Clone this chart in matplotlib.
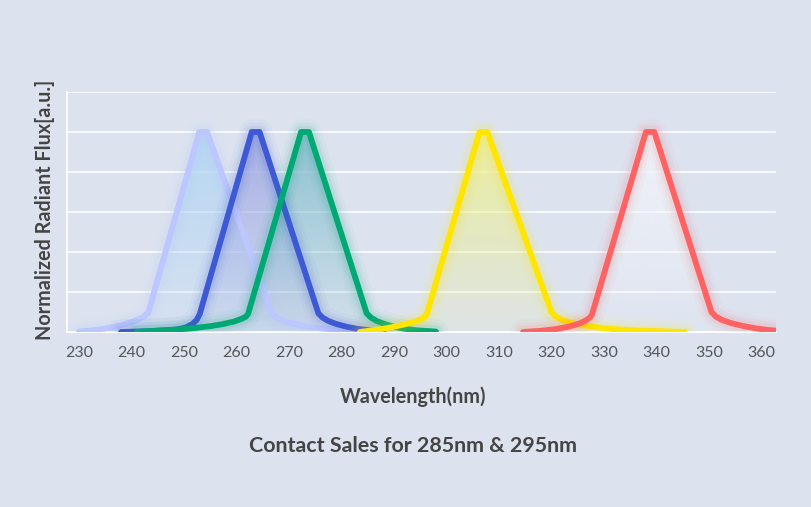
import numpy as np
import matplotlib
matplotlib.use('Agg')
import matplotlib.pyplot as plt
from matplotlib.patches import Polygon
from matplotlib.colors import to_rgb

# wavelength (nm) / normalized flux points
x_ticks = [230, 240, 250, 260, 270, 280, 290, 300, 310, 320, 330, 340, 350, 360]

violet_x = [230, 232, 234, 236, 238, 240, 241.5, 242.5, 243.2, 252.9, 254.4,
            266.7, 267.5, 268.5, 270, 272, 274, 276.5, 279, 282, 285]
violet_y = [0.002, 0.007, 0.013, 0.022, 0.034, 0.05, 0.065, 0.08, 0.097, 1.0, 1.0,
            0.093, 0.074, 0.06, 0.046, 0.034, 0.025, 0.017, 0.011, 0.006, 0.002]

blue_x = [238, 242, 246, 248.5, 250.3, 251.6, 252.4, 253.0, 262.9, 264.4,
          275.6, 276.4, 277.5, 279, 281, 283, 285.5, 288]
blue_y = [0.0, 0.003, 0.007, 0.012, 0.022, 0.04, 0.06, 0.09, 1.0, 1.0,
          0.093, 0.072, 0.055, 0.04, 0.026, 0.016, 0.008, 0.003]

green_x = [241, 245, 249, 252, 255, 257.5, 259.5, 261, 261.8, 262.2, 272.3, 273.8,
           284.8, 285.6, 286.7, 288.2, 290, 292, 294.5, 298]
green_y = [0.0, 0.007, 0.013, 0.02, 0.029, 0.04, 0.052, 0.066, 0.077, 0.09, 1.0, 1.0,
           0.093, 0.072, 0.055, 0.04, 0.026, 0.016, 0.008, 0.002]

yellow_x = [283.5, 285.5, 288, 290, 292, 294, 295.3, 296.0, 296.3, 306.3, 307.8,
            320.0, 320.8, 322, 324, 326.5, 329, 332, 336, 340, 345.4]
yellow_y = [0.0, 0.007, 0.016, 0.026, 0.038, 0.052, 0.066, 0.08, 0.093, 1.0, 1.0,
            0.10, 0.078, 0.06, 0.044, 0.032, 0.022, 0.014, 0.008, 0.004, 0.0]

red_x = [314.6, 318, 321, 323.5, 325.3, 326.6, 327.3, 327.7, 338.0, 339.6,
         350.5, 351.3, 352.5, 354.3, 356.5, 359, 361, 362.7]
red_y = [0.0, 0.006, 0.015, 0.028, 0.042, 0.058, 0.072, 0.085, 1.0, 1.0,
         0.10, 0.078, 0.06, 0.044, 0.03, 0.018, 0.011, 0.007]

series = [
    (violet_x, violet_y, '#bcc6ff', '#aed4f4'),
    (blue_x, blue_y, '#3e59d4', '#9aa5e2'),
    (green_x, green_y, '#00a874', '#7fbccb'),
    (yellow_x, yellow_y, '#ffe500', '#eef08c'),
    (red_x, red_y, '#ff6262', '#f4f5fb'),
]

bg = '#dce3ef'
fig = plt.figure(figsize=(8.12, 5.07), dpi=100, facecolor=bg)
ax = fig.add_axes([0.0825, 0.3452, 0.8732, 0.4734])
ax.set_facecolor(bg)

for xs, ys, line_c, fill_c in series:
    # gradient fill clipped to the area under the curve
    verts = list(zip(xs, ys)) + [(xs[-1], 0), (xs[0], 0)]
    poly = Polygon(verts, closed=True, facecolor='none', edgecolor='none')
    ax.add_patch(poly)
    r, g, b = to_rgb(fill_c)
    grad = np.zeros((200, 1, 4))
    grad[..., 0], grad[..., 1], grad[..., 2] = r, g, b
    grad[..., 3] = np.linspace(0.1, 0.85, 200).reshape(-1, 1)
    im = ax.imshow(grad, extent=(xs[0], xs[-1], 0, 1.0), origin='lower',
                   aspect='auto', interpolation='bilinear', zorder=1)
    im.set_clip_path(poly)

ax.set_xlim(227.7, 362.8)
ax.set_ylim(0, 1.2)

for i, (xs, ys, line_c, fill_c) in enumerate(series):
    z = 3 + i
    for lw, a in [(18, 0.035), (13, 0.05), (9, 0.08)]:
        ax.plot(xs, ys, color=line_c, lw=lw, alpha=a, solid_joinstyle='round',
                solid_capstyle='round', zorder=z)
    ax.plot(xs, ys, color=line_c, lw=4.2, solid_joinstyle='round',
            solid_capstyle='round', zorder=z + 0.5)

ax.set_yticks(np.arange(0, 1.21, 0.2))
ax.set_yticklabels([])
ax.tick_params(axis='y', length=0)
ax.grid(axis='y', color='white', lw=1.1, zorder=0)
ax.set_axisbelow(True)

ax.set_xticks(x_ticks)
ax.set_xticklabels([str(t) for t in x_ticks], fontfamily='Lato', fontsize=11.5,
                   color='#555555')
ax.tick_params(axis='x', length=0, pad=10)

for s in ['top', 'right']:
    ax.spines[s].set_visible(False)
for s in ['left', 'bottom']:
    ax.spines[s].set_color('white')
    ax.spines[s].set_linewidth(1.3)

fig.text(0.055, 0.586, 'Normalized Radiant Flux[a.u.]', rotation=90,
         ha='center', va='center', fontfamily='Lato', fontweight='bold',
         fontsize=14.2, color='#444444')
fig.text(0.509, 1 - 397 / 507, 'Wavelength(nm)', ha='center', va='center',
         fontfamily='Lato', fontweight='bold', fontsize=14.2, color='#444444')
fig.text(0.509, 1 - 446 / 507, 'Contact Sales for 285nm & 295nm', ha='center',
         va='center', fontfamily='Lato', fontweight='bold', fontsize=15.4,
         color='#444444')

fig.savefig('out.png', dpi=100, facecolor=bg)
